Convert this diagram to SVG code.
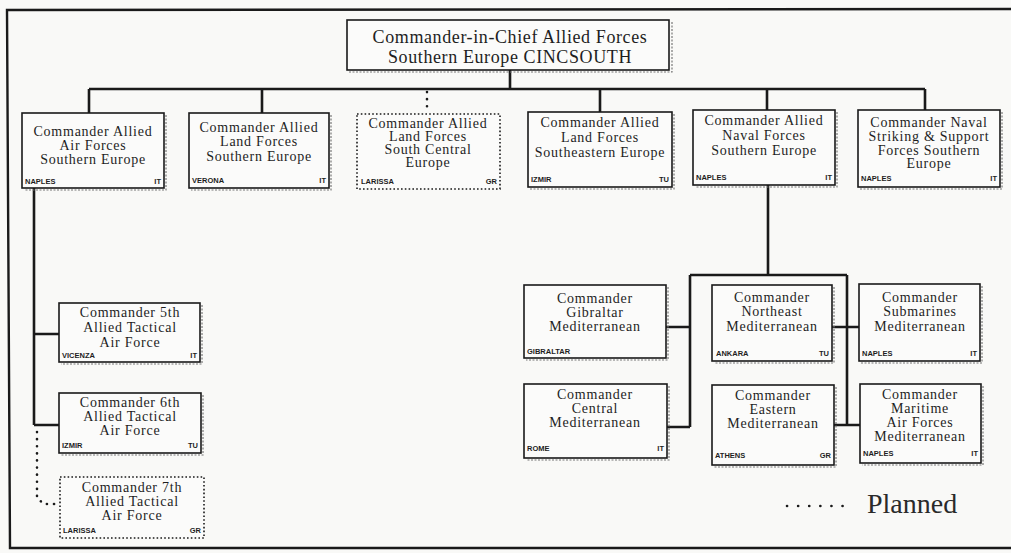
<svg xmlns="http://www.w3.org/2000/svg" width="1011" height="553" viewBox="0 0 1011 553">
<style>
.bg{fill:#f9f9f7}
.frame{fill:none;stroke:#1a1a1a;stroke-width:2.4}
.box{fill:#fbfbfa;stroke:#1a1a1a;stroke-width:1.6}
.plan{fill:#fbfbfa;stroke:#1a1a1a;stroke-width:1.6;stroke-dasharray:1.6 2.2}
.shadow{fill:none;stroke:#777;stroke-width:1.2;stroke-dasharray:2 1.5}
.t{font-family:"Liberation Serif","Times New Roman",serif;font-size:14px;letter-spacing:0.75px;fill:#1e1e1e;text-anchor:middle}
.top{font-size:18px;letter-spacing:0.6px}
.loc{font-family:"Liberation Sans",Arial,sans-serif;font-size:7.5px;font-weight:bold;fill:#1e1e1e}
.r{text-anchor:end}
.c{fill:none;stroke:#1a1a1a;stroke-width:2.6}
.d{fill:none;stroke:#1a1a1a;stroke-width:2.6;stroke-dasharray:0.1 7;stroke-linecap:round}
.leg{font-family:"Liberation Serif","Times New Roman",serif;font-size:28px;fill:#2a2a2a}
</style>
<rect class="bg" x="0" y="0" width="1011" height="553"/>
<path class="frame" d="M1011,9 L7,10 L10,548 L1011,548"/>

<g id="connectors">
  <path class="c" d="M510,70 V89 M89,89 H925 M89,89 V113 M262,89 V113 M600,89 V115 M767,89 V110 M925,89 V110"/>
  <path class="d" d="M427,92 V112"/>
  <path class="c" d="M34,188 V425 M34,334 H59 M34,425 H59"/>
  <path class="d" d="M37,432 V498 L44,504 H59"/>
  <path class="c" d="M768,185 V275 M690,275 H847 M690,275 V427 M847,275 V425 M666,327 H690 M667,427 H690 M832,327 H859 M834,425 H860"/>
</g>

<g id="cincsouth">
  <path class="shadow" d="M672,22 V72 H349"/>
  <rect class="box" x="347" y="20" width="322" height="50"/>
  <text class="t top" x="510" y="43">Commander-in-Chief Allied Forces</text>
  <text class="t top" x="510" y="63">Southern Europe CINCSOUTH</text>
</g>

<g id="airsouth">
  <path class="shadow" d="M166,115 V190 H24"/>
  <rect class="box" x="22" y="113" width="142" height="75"/>
  <text class="t" x="93" y="136">Commander Allied</text>
  <text class="t" x="93" y="150">Air Forces</text>
  <text class="t" x="93" y="164">Southern Europe</text>
  <text class="loc" x="25" y="184">NAPLES</text><text class="loc r" x="161" y="184">IT</text>
</g>

<g id="landsouth">
  <path class="shadow" d="M331,115 V190 H191"/>
  <rect class="box" x="189" y="113" width="140" height="75"/>
  <text class="t" x="259" y="132">Commander Allied</text>
  <text class="t" x="259" y="146">Land Forces</text>
  <text class="t" x="259" y="161">Southern Europe</text>
  <text class="loc" x="192" y="183">VERONA</text><text class="loc r" x="326" y="183">IT</text>
</g>

<g id="landsouthcentral">
  <rect class="plan" x="357" y="114" width="143" height="75"/>
  <text class="t" x="428" y="128">Commander Allied</text>
  <text class="t" x="428" y="141">Land Forces</text>
  <text class="t" x="428" y="154">South Central</text>
  <text class="t" x="428" y="167">Europe</text>
  <text class="loc" x="361" y="184">LARISSA</text><text class="loc r" x="497" y="184">GR</text>
</g>

<g id="landsoutheast">
  <path class="shadow" d="M674,114 V189 H530"/>
  <rect class="box" x="528" y="112" width="144" height="75"/>
  <text class="t" x="600" y="127">Commander Allied</text>
  <text class="t" x="600" y="142">Land Forces</text>
  <text class="t" x="600" y="157">Southeastern Europe</text>
  <text class="loc" x="531" y="182">IZMIR</text><text class="loc r" x="669" y="182">TU</text>
</g>

<g id="navalsouth">
  <path class="shadow" d="M837,112 V187 H695"/>
  <rect class="box" x="693" y="110" width="142" height="75"/>
  <text class="t" x="764" y="125">Commander Allied</text>
  <text class="t" x="764" y="140">Naval Forces</text>
  <text class="t" x="764" y="155">Southern Europe</text>
  <text class="loc" x="696" y="180">NAPLES</text><text class="loc r" x="832" y="180">IT</text>
</g>

<g id="strikforsouth">
  <path class="shadow" d="M1002,112 V189 H860"/>
  <rect class="box" x="858" y="110" width="142" height="77"/>
  <text class="t" x="929" y="127">Commander Naval</text>
  <text class="t" x="929" y="141">Striking &amp; Support</text>
  <text class="t" x="929" y="155">Forces Southern</text>
  <text class="t" x="929" y="168">Europe</text>
  <text class="loc" x="861" y="181">NAPLES</text><text class="loc r" x="997" y="181">IT</text>
</g>

<g id="ataf5">
  <path class="shadow" d="M202,305 V364 H61"/>
  <rect class="box" x="59" y="303" width="141" height="59"/>
  <text class="t" x="130" y="317">Commander 5th</text>
  <text class="t" x="130" y="332">Allied Tactical</text>
  <text class="t" x="130" y="347">Air Force</text>
  <text class="loc" x="62" y="358">VICENZA</text><text class="loc r" x="197" y="358">IT</text>
</g>

<g id="ataf6">
  <path class="shadow" d="M203,395 V455 H61"/>
  <rect class="box" x="59" y="393" width="142" height="60"/>
  <text class="t" x="130" y="407">Commander 6th</text>
  <text class="t" x="130" y="421">Allied Tactical</text>
  <text class="t" x="130" y="435">Air Force</text>
  <text class="loc" x="62" y="448">IZMIR</text><text class="loc r" x="198" y="448">TU</text>
</g>

<g id="ataf7">
  <rect class="plan" x="60" y="477" width="144" height="61"/>
  <text class="t" x="132" y="492">Commander 7th</text>
  <text class="t" x="132" y="506">Allied Tactical</text>
  <text class="t" x="132" y="520">Air Force</text>
  <text class="loc" x="63" y="533">LARISSA</text><text class="loc r" x="201" y="533">GR</text>
</g>

<g id="gibmed">
  <path class="shadow" d="M668,287 V360 H526"/>
  <rect class="box" x="524" y="285" width="142" height="73"/>
  <text class="t" x="595" y="303">Commander</text>
  <text class="t" x="595" y="317">Gibraltar</text>
  <text class="t" x="595" y="331">Mediterranean</text>
  <text class="loc" x="527" y="354">GIBRALTAR</text>
</g>

<g id="nemed">
  <path class="shadow" d="M834,287 V363 H714"/>
  <rect class="box" x="712" y="285" width="120" height="76"/>
  <text class="t" x="772" y="302">Commander</text>
  <text class="t" x="772" y="316">Northeast</text>
  <text class="t" x="772" y="331">Mediterranean</text>
  <text class="loc" x="716" y="356">ANKARA</text><text class="loc r" x="829" y="356">TU</text>
</g>

<g id="submed">
  <path class="shadow" d="M982,286 V363 H861"/>
  <rect class="box" x="859" y="284" width="121" height="77"/>
  <text class="t" x="920" y="302">Commander</text>
  <text class="t" x="920" y="316">Submarines</text>
  <text class="t" x="920" y="331">Mediterranean</text>
  <text class="loc" x="862" y="356">NAPLES</text><text class="loc r" x="977" y="356">IT</text>
</g>

<g id="centmed">
  <path class="shadow" d="M669,386 V460 H526"/>
  <rect class="box" x="524" y="384" width="143" height="74"/>
  <text class="t" x="595" y="399">Commander</text>
  <text class="t" x="595" y="413">Central</text>
  <text class="t" x="595" y="427">Mediterranean</text>
  <text class="loc" x="527" y="451">ROME</text><text class="loc r" x="664" y="451">IT</text>
</g>

<g id="eastmed">
  <path class="shadow" d="M836,387 V467 H714"/>
  <rect class="box" x="712" y="385" width="122" height="80"/>
  <text class="t" x="773" y="400">Commander</text>
  <text class="t" x="773" y="414">Eastern</text>
  <text class="t" x="773" y="428">Mediterranean</text>
  <text class="loc" x="715" y="458">ATHENS</text><text class="loc r" x="831" y="458">GR</text>
</g>

<g id="marairmed">
  <path class="shadow" d="M983,386 V465 H862"/>
  <rect class="box" x="860" y="384" width="121" height="79"/>
  <text class="t" x="920" y="399">Commander</text>
  <text class="t" x="920" y="413">Maritime</text>
  <text class="t" x="920" y="427">Air Forces</text>
  <text class="t" x="920" y="441">Mediterranean</text>
  <text class="loc" x="863" y="456">NAPLES</text><text class="loc r" x="978" y="456">IT</text>
</g>

<g id="legend">
  <path class="d" d="M787,506 H851" style="stroke-dasharray:0.1 11"/>
  <text class="leg" x="867" y="513">Planned</text>
</g>
</svg>
